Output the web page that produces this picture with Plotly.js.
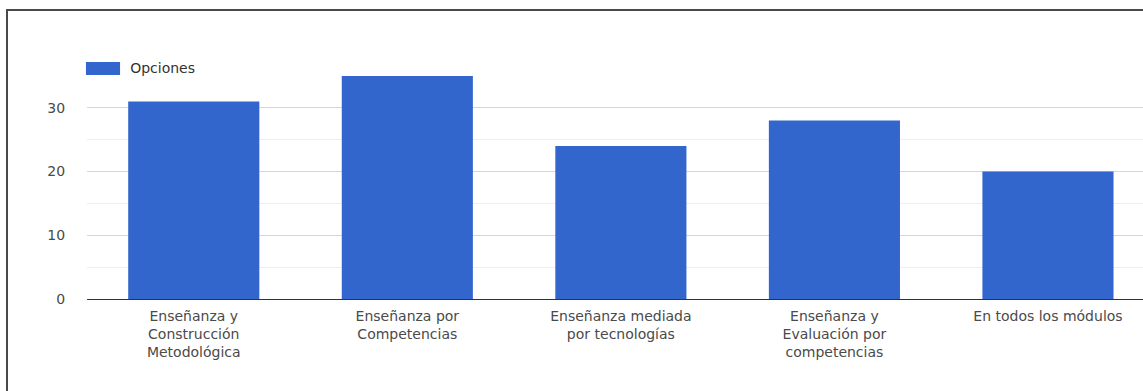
<!DOCTYPE html>
<html>
<head>
<meta charset="utf-8">
<script src="https://cdn.plot.ly/plotly-3.0.1.min.js"></script>
<style>
  html, body { margin: 0; padding: 0; background: #fff; overflow: hidden; }
  #wrap { position: relative; width: 1143px; height: 391px; }
  #chart { position: absolute; left: 0; top: 0; width: 1143px; height: 391px; }
  #frame { position: absolute; left: 6px; top: 9px; right: -4px; bottom: -4px;
           border-top: 2px solid #4a4a4a; border-left: 2px solid #4a4a4a; pointer-events: none; }
</style>
</head>
<body>
<div id="wrap">
  <div id="chart"></div>
  <div id="frame"></div>
</div>
<script>
const categories = [
  "Enseñanza y<br>Construcción<br>Metodológica",
  "Enseñanza por<br>Competencias",
  "Enseñanza mediada<br>por tecnologías",
  "Enseñanza y<br>Evaluación por<br>competencias",
  "En todos los módulos"
];
const seriesName = "Opciones";
const values = [31, 35, 24, 28, 20];
const yTickVals = [0, 10, 20, 30];
const yTickText = ["0", "10", "20", "30"];

const fontFamily = "DejaVu Sans, Liberation Sans, Arial, sans-serif";
const barColor = "#3366cc";

const trace = {
  type: "bar",
  name: seriesName,
  x: categories.map((c, i) => i),
  y: values,
  marker: { color: barColor },
  hoverinfo: "y"
};

const layout = {
  width: 1143,
  height: 391,
  margin: { l: 87, r: 0, t: 76, b: 92 },
  paper_bgcolor: "rgba(0,0,0,0)",
  plot_bgcolor: "#fff",
  bargap: 0.386,
  showlegend: true,
  legend: {
    x: 0.003, xanchor: "left",
    y: 1.034, yanchor: "middle",
    orientation: "h",
    font: { family: fontFamily, size: 14, color: "#333" },
    bgcolor: "rgba(0,0,0,0)",
    itemwidth: 30
  },
  shapes: [{
    // wide legend swatch, as in the reference
    type: "rect", xref: "paper", yref: "paper",
    x0: -0.001, x1: 0.0313, y0: 1.0045, y1: 1.0628,
    fillcolor: barColor, line: { width: 0 }, layer: "above"
  }],
  xaxis: {
    tickmode: "array",
    tickvals: categories.map((c, i) => i),
    ticktext: categories,
    range: [-0.5, 4.445],
    showline: true,
    linecolor: "#333",
    linewidth: 1,
    showgrid: false,
    zeroline: false,
    ticks: "outside",
    ticklen: 4,
    tickcolor: "rgba(0,0,0,0)",
    tickfont: { family: fontFamily, size: 14, color: "#4a4a4a" },
    fixedrange: true
  },
  yaxis: {
    range: [0, 35],
    tickmode: "array",
    tickvals: yTickVals,
    ticktext: yTickText,
    showgrid: true,
    gridcolor: "#d6d6d6",
    gridwidth: 1,
    minor: { dtick: 5, showgrid: true, gridcolor: "#eeeeee", gridwidth: 1 },
    zeroline: false,
    showline: false,
    ticks: "outside",
    ticklen: 18,
    tickcolor: "rgba(0,0,0,0)",
    tickfont: { family: fontFamily, size: 14, color: "#4a4a4a" },
    fixedrange: true
  }
};

Plotly.newPlot("chart", [trace], layout, { displayModeBar: false, staticPlot: true });
</script>
</body>
</html>
